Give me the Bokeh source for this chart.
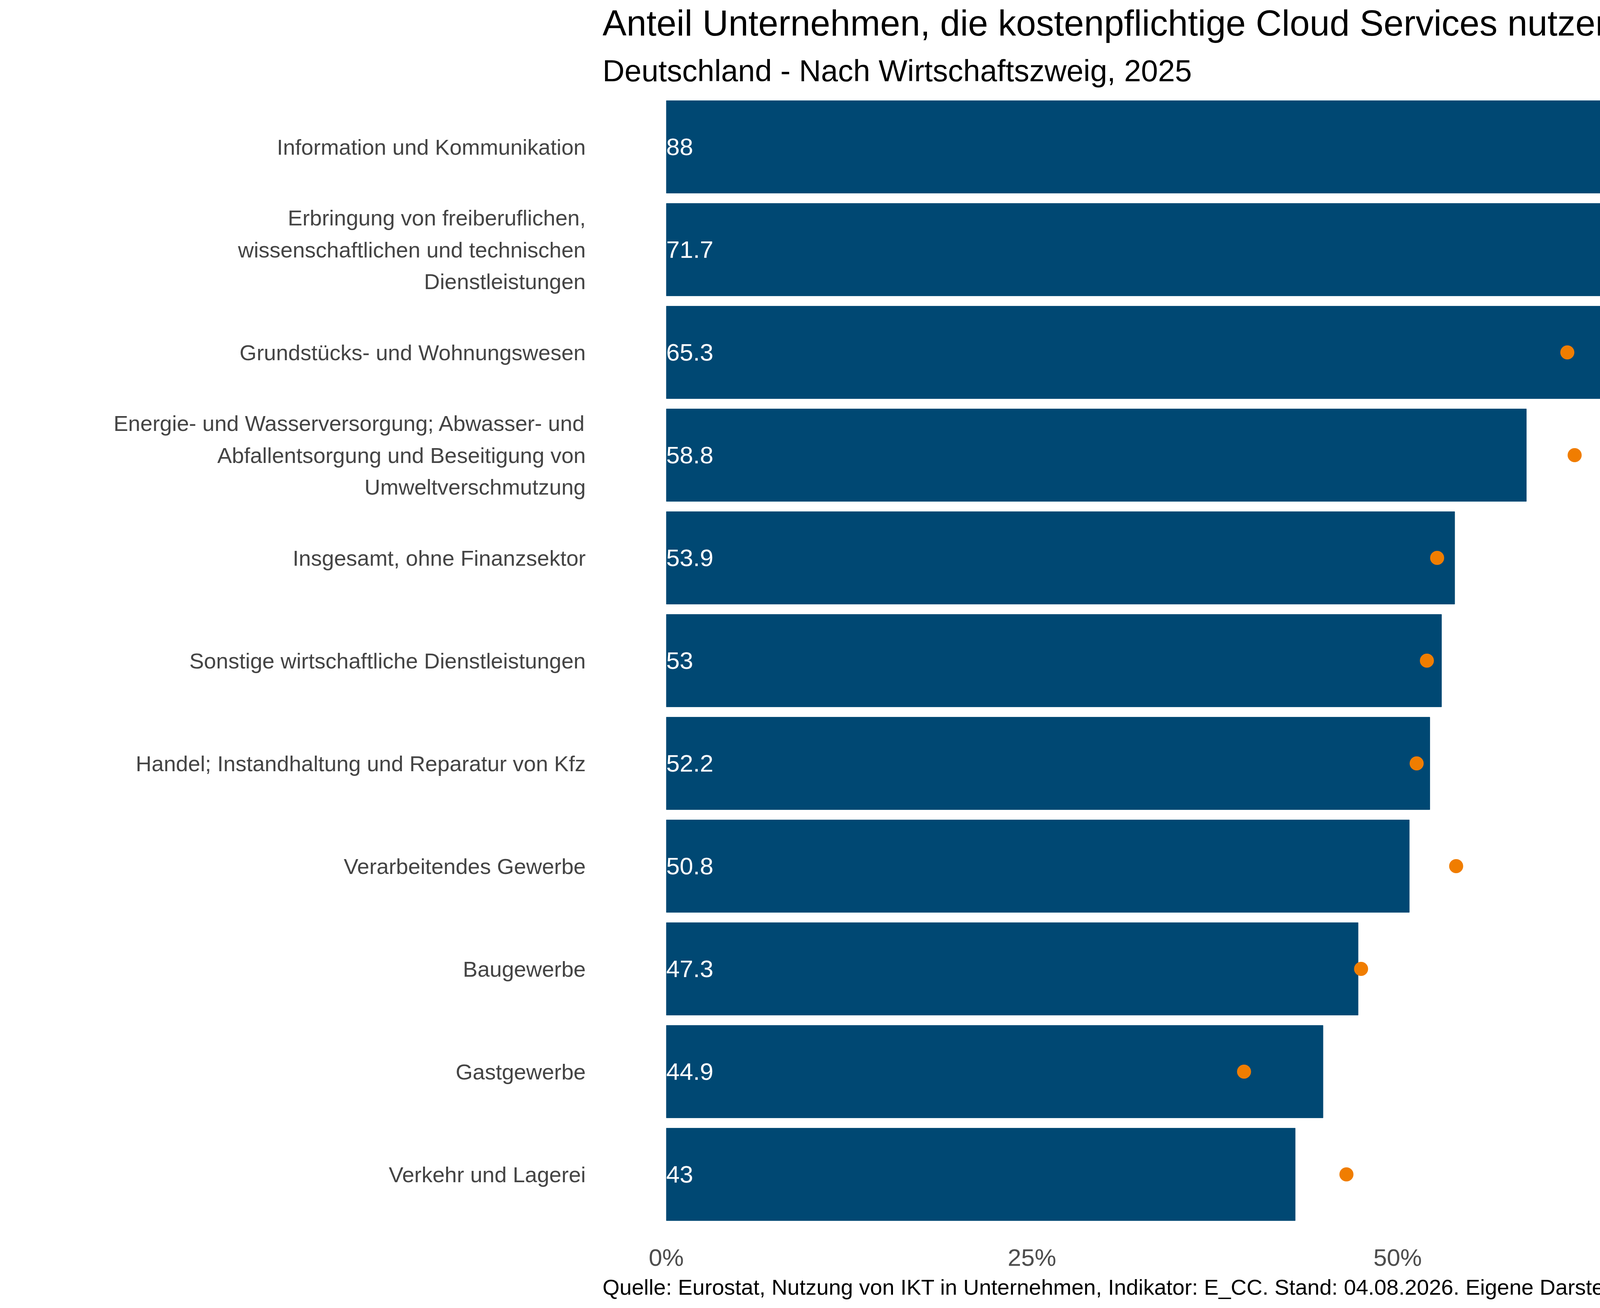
from bokeh.plotting import figure
from bokeh.models import Range1d, Label, FixedTicker, ColumnDataSource, FactorRange, Title
from bokeh.embed import file_html
from bokeh.resources import INLINE
from bokeh.core.properties import value

categories = ["Information und Kommunikation",
              "Erbringung von freiberuflichen,\nwissenschaftlichen und technischen\nDienstleistungen",
              "Grundstücks- und Wohnungswesen",
              "Energie- und Wasserversorgung; Abwasser- und\nAbfallentsorgung und Beseitigung von\nUmweltverschmutzung",
              "Insgesamt, ohne Finanzsektor",
              "Sonstige wirtschaftliche Dienstleistungen",
              "Handel; Instandhaltung und Reparatur von Kfz",
              "Verarbeitendes Gewerbe",
              "Baugewerbe",
              "Gastgewerbe",
              "Verkehr und Lagerei"]
de_values = [88, 71.7, 65.3, 58.8, 53.9, 53, 52.2, 50.8, 47.3, 44.9, 43]
eu_values = [82.9, 67.4, 61.6, 62.1, 52.7, 52.0, 51.3, 54.0, 47.5, 39.5, 46.5]
tick_values = [0, 25, 50, 75]
tick_labels = ["0%", "25%", "50%", "75%"]

F = "Liberation Sans"
src = ColumnDataSource(dict(y=categories, de=de_values, eu=eu_values,
                            lbl=[("%g" % v) for v in de_values]))

p = figure(width=5140, height=3330, output_backend="svg", toolbar_location=None,
           x_range=Range1d(0, 88.2), y_range=FactorRange(*categories[::-1], range_padding=0.0),
           min_border_left=1705, min_border_right=132, min_border_top=20, min_border_bottom=40)
p.title = None
p.outline_line_color = None
p.grid.visible = False
p.yaxis.axis_line_color = None
p.yaxis.major_tick_line_color = None
p.yaxis.minor_tick_line_color = None
p.yaxis.major_label_text_font_size = "56px"
p.yaxis.major_label_text_font = F
p.yaxis.major_label_text_color = "#444444"
p.yaxis.major_label_text_line_height = 1.3
p.yaxis.major_label_standoff = 200
p.xaxis.ticker = FixedTicker(ticks=tick_values)
p.xaxis.major_label_overrides = {t: l for t, l in zip(tick_values, tick_labels)}
p.xaxis.axis_line_color = None
p.xaxis.major_tick_line_color = None
p.xaxis.minor_tick_line_color = None
p.xaxis.major_label_text_font_size = "62px"
p.xaxis.major_label_text_color = "#4d4d4d"
p.xaxis.major_label_text_font = F
p.xaxis.major_label_standoff = 40

p.hbar(y="y", right="de", left=0, height=0.9, color="#004873", source=src)
p.text(x=0, y="y", text="lbl", source=src, text_color="white", text_font_size="62px",
       text_font=value(F), text_baseline="middle", text_align="left")
p.scatter(x="eu", y="y", source=src, size=36, color="#F07D00", line_color=None)

p.add_layout(Label(x=eu_values[0], y=10.72, text="EU Ø", text_align="center", text_baseline="middle",
                   text_font_size="80px", text_font=F, text_color="#F07D00", text_font_style="bold"))

p.add_layout(Title(text="Quelle: Eurostat, Nutzung von IKT in Unternehmen, Indikator: E_CC. Stand: 04.08.2026. Eigene Darstellung.",
                   align="left", offset=-163, text_font_size="56px", text_font=F,
                   text_font_style="normal", text_color="black"), "below")
p.add_layout(Title(text="Deutschland - Nach Wirtschaftszweig, 2025", align="left", offset=-163,
                   text_font_size="78px", text_font=F, text_font_style="normal",
                   text_color="black", standoff=40), "above")
p.add_layout(Title(text="Anteil Unternehmen, die kostenpflichtige Cloud Services nutzen", align="left",
                   offset=-163, text_font_size="92px", text_font=F, text_font_style="normal",
                   text_color="black"), "above")

open("out.html", "w").write(file_html(p, INLINE))
